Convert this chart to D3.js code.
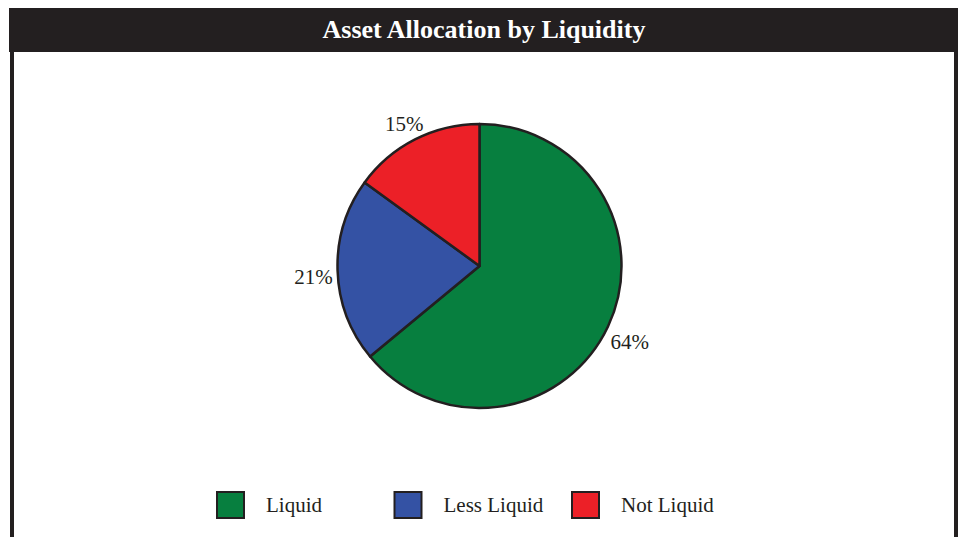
<!DOCTYPE html>
<html lang="en">
<head>
<meta charset="UTF-8" />
<title>Asset Allocation by Liquidity</title>
<script src="https://d3js.org/d3.v7.min.js"></script>
<style>
    body { margin: 0; background: #fff; }
    svg { display: block; }
</style>
</head>
<body>
<svg></svg>
<script>
    // chart data
    let title = "Asset Allocation by Liquidity";
    let categories = ["Liquid", "Less Liquid", "Not Liquid"];
    let values = [64, 21, 15];
    let colors = ["#077f3f", "#3452a4", "#ec2027"];

    let width = 965, height = 537;
    let dark = "#231f20";
    let serif = "'Liberation Serif', 'Times New Roman', serif";

    let svg = d3.select("svg")
        .attr("width", width)
        .attr("height", height);

    // frame: black header bar + side rules
    svg.append("rect")
        .attr("x", 9).attr("y", 8)
        .attr("width", 949).attr("height", 44)
        .attr("fill", dark);

    svg.append("path")
        .attr("d", "M12,52V537M956,52V537")
        .attr("stroke", dark)
        .attr("stroke-width", 4)
        .attr("fill", "none");

    svg.append("text")
        .attr("x", 484).attr("y", 38)
        .attr("text-anchor", "middle")
        .attr("fill", "#fff")
        .style("font-family", serif)
        .style("font-weight", "bold")
        .style("font-size", "26px")
        .text(title);

    // pie
    let cx = 479.5, cy = 266, radius = 142;
    let color = d3.scaleOrdinal().domain(categories).range(colors);

    let pie = d3.pie().sort(null).value(d => d.value);
    let data = categories.map((c, i) => ({ name: c, value: values[i] }));
    let arcs = pie(data);

    let arc = d3.arc().innerRadius(0).outerRadius(radius);
    let labelArc = d3.arc().innerRadius(166).outerRadius(166);

    let g = svg.append("g")
        .attr("transform", "translate(" + cx + "," + cy + ")");

    g.selectAll("path")
        .data(arcs)
        .enter()
        .append("path")
        .attr("d", arc)
        .attr("fill", d => color(d.data.name))
        .attr("stroke", dark)
        .attr("stroke-width", 2.5)
        .attr("stroke-linejoin", "round");

    g.selectAll("text")
        .data(arcs)
        .enter()
        .append("text")
        .attr("transform", d => "translate(" + labelArc.centroid(d) + ")")
        .attr("text-anchor", "middle")
        .attr("dy", "0.6em")
        .style("font-family", serif)
        .style("font-size", "21px")
        .attr("fill", dark)
        .text(d => d.data.value + "%");

    // legend
    let legendX = d3.scalePoint().domain(categories).range([217, 572]);

    let legend = svg.append("g")
        .selectAll("g")
        .data(categories)
        .enter()
        .append("g")
        .attr("transform", d => "translate(" + legendX(d) + ",492)");

    legend.append("rect")
        .attr("width", 27).attr("height", 26)
        .attr("fill", d => color(d))
        .attr("stroke", dark)
        .attr("stroke-width", 2);

    legend.append("text")
        .attr("x", 49).attr("y", 20)
        .style("font-family", serif)
        .style("font-size", "21px")
        .attr("fill", dark)
        .text(d => d);
</script>
</body>
</html>
